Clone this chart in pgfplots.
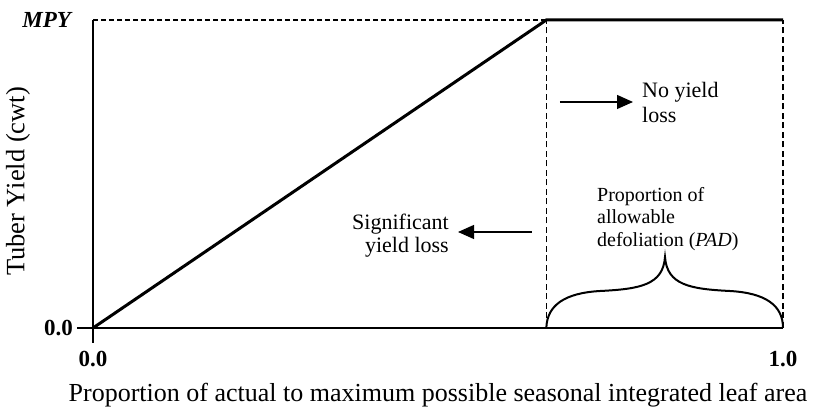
\documentclass[border=0pt]{standalone}
\usepackage{fontspec}
\setmainfont{Liberation Serif}
\usepackage{pgfplots}
\pgfplotsset{compat=1.18}
\usetikzlibrary{arrows.meta}
\begin{document}
\begin{tikzpicture}
\begin{axis}[
  name=ax,
  scale only axis,
  width=690pt, height=308pt,
  xmin=0, xmax=1, ymin=0, ymax=1,
  axis x line=bottom, axis y line=left,
  axis line style={-, line width=2.6pt, black},
  clip=false,
  xtick={0,1}, xticklabels={\textbf{0.0},\textbf{1.0}},
  ytick={0,1}, yticklabels={\textbf{0.0},\textbf{\textit{MPY}}},
  major tick length=0pt,
  tick label style={font=\fontsize{23}{26}\selectfont\bfseries},
  xticklabel style={anchor=base, yshift=-39pt},
  yticklabel style={anchor=east, inner sep=0pt, xshift=-20pt},
  /pgf/number format/assume math mode=true,
  xlabel={Proportion of actual to maximum possible seasonal integrated leaf area},
  xlabel style={at={(axis description cs:0.5,0)}, anchor=base, yshift=-74pt, inner sep=0pt, font=\fontsize{26}{30}\selectfont},
  ylabel={Tuber Yield (cwt)},
  ylabel style={at={([xshift=-68.5pt,yshift=-7.5pt]axis description cs:0,0.5)}, anchor=base, rotate=0, inner sep=0pt, font=\fontsize{26.5}{30}\selectfont},
]
% dashed guide lines
\addplot[black, line width=1.1pt, dash pattern=on 5pt off 3pt] coordinates {(0,1) (0.657,1)};
\addplot[black, line width=1.1pt, dash pattern=on 6pt off 3.5pt] coordinates {(0.657,0) (0.657,1)};
\addplot[black, line width=1.1pt, dash pattern=on 6pt off 3.5pt] coordinates {(1,0) (1,1)};
% axis extensions at the origin
\addplot[black, line width=2.6pt] coordinates {(0,0.005) (0,-0.0487)};
\addplot[black, line width=2.6pt] coordinates {(0.004,0) (-0.0232,0)};
% yield response
\addplot[black, line width=3pt, line join=miter] coordinates {(0,0) (0.657,1) (1,1)};
% brace
\draw[black, line width=2pt] (axis cs:0.657,0) .. controls (axis cs:0.658,0.0747) and (axis cs:0.684,0.1136) .. (axis cs:0.7348,0.1201)
  .. controls (axis cs:0.7928,0.1266) and (axis cs:0.8261,0.1396) .. (axis cs:0.8290,0.2305)
  .. controls (axis cs:0.8319,0.1396) and (axis cs:0.8652,0.1266) .. (axis cs:0.9232,0.1201)
  .. controls (axis cs:0.9739,0.1136) and (axis cs:1.0,0.0747) .. (axis cs:1.0,0);
% arrows
\draw[black, line width=1.3pt, -{Triangle[length=16pt,width=14pt]}] (axis cs:0.6768,0.7338) -- (axis cs:0.7826,0.7338);
\draw[black, line width=1.3pt, -{Triangle[length=16pt,width=14pt]}] (axis cs:0.6362,0.3117) -- (axis cs:0.5290,0.3117);
% annotation text
\begin{scope}[every node/.style={inner sep=0pt, font=\fontsize{22}{25}\selectfont}]
\node[anchor=base west] at (axis cs:0.7957,0.7468) {No yield};
\node[anchor=base west] at (axis cs:0.7957,0.6656) {loss};
\node[anchor=base east] at (axis cs:0.5159,0.3214) {Significant};
\node[anchor=base east] at (axis cs:0.5159,0.2435) {yield loss};
\end{scope}
\begin{scope}[every node/.style={inner sep=0pt, font=\fontsize{20}{23}\selectfont}]
\node[anchor=base west] at (axis cs:0.7304,0.4123) {Proportion of};
\node[anchor=base west] at (axis cs:0.7304,0.3377) {allowable};
\node[anchor=base west] at (axis cs:0.7304,0.2630) {defoliation (\textit{PAD})};
\end{scope}
\end{axis}
\pgfresetboundingbox
\path[use as bounding box] ([shift={(-93pt,-83pt)}]ax.south west) rectangle ([shift={(33pt,20pt)}]ax.north east);
\end{tikzpicture}
\end{document}
